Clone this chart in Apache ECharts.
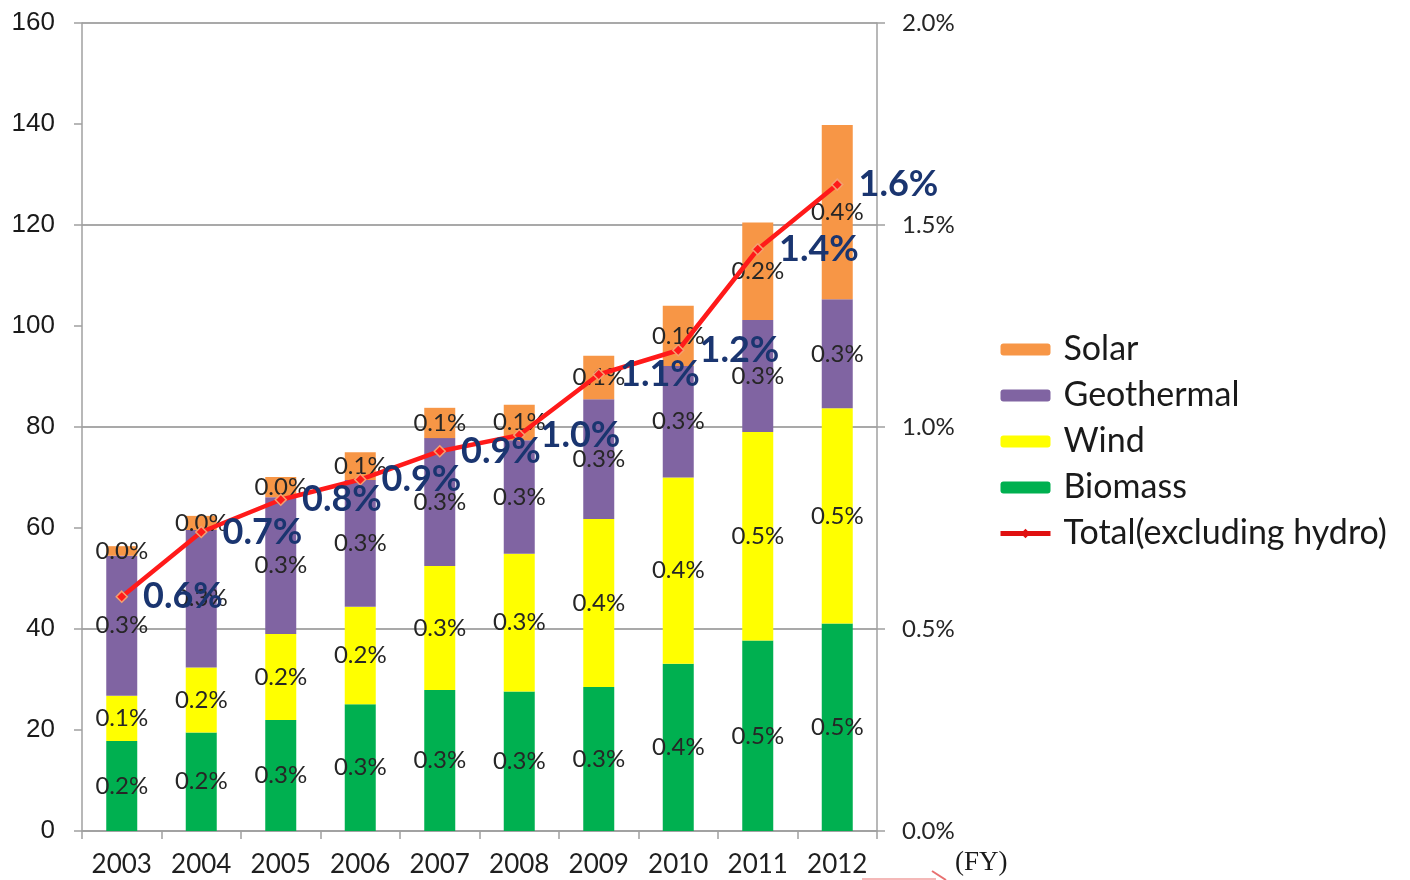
<!DOCTYPE html>
<html>
<head>
<meta charset="utf-8">
<script src="https://cdn.jsdelivr.net/npm/echarts@6/dist/echarts.min.js"></script>
<style>
html,body{margin:0;padding:0;background:#fff;}
#chart{width:1410px;height:880px;}
</style>
</head>
<body>
<div id="chart"></div>
<script>
// ---- data ----
const years = ['2003','2004','2005','2006','2007','2008','2009','2010','2011','2012'];
// generated amount (left axis units), stacked bottom-up
const biomass    = [17.8, 19.5, 22.0, 25.1, 27.9, 27.6, 28.5, 33.1, 37.7, 41.1];
const wind       = [ 9.0, 12.9, 17.0, 19.3, 24.6, 27.3, 33.3, 36.9, 41.3, 42.6];
const geothermal = [27.7, 27.2, 27.1, 25.1, 25.3, 22.5, 23.7, 22.1, 22.2, 21.6];
const solar      = [ 1.9,  2.8,  4.0,  5.5,  6.0,  7.0,  8.6, 11.9, 19.3, 34.5];
// share labels (%) printed in each segment
const biomassShare    = [0.2, 0.2, 0.3, 0.3, 0.3, 0.3, 0.3, 0.4, 0.5, 0.5];
const windShare       = [0.1, 0.2, 0.2, 0.2, 0.3, 0.3, 0.4, 0.4, 0.5, 0.5];
const geothermalShare = [0.3, 0.3, 0.3, 0.3, 0.3, 0.3, 0.3, 0.3, 0.3, 0.3];
const solarShare      = [0.0, 0.0, 0.0, 0.1, 0.1, 0.1, 0.1, 0.1, 0.2, 0.4];
// total share excluding hydro (%), right axis
const totalShare = [0.58, 0.74, 0.82, 0.87, 0.94, 0.98, 1.13, 1.19, 1.44, 1.60];
// tick labels
const leftTicks = [0, 20, 40, 60, 80, 100, 120, 140, 160];
const rightTicks = [0, 0.5, 1.0, 1.5, 2.0];

const C = {
  solar: '#F79646', geo: '#8064A2', wind: '#FFFF00', bio: '#00B050',
  line: '#FF1A1A', blue: '#1A3570', grid: '#8C8C8C', axis: '#A0A0A0'
};
const SANS = 'Lato, "Open Sans", sans-serif';

function segLabel(shares) {
  return {
    show: true, position: 'inside', color: '#262626',
    fontFamily: SANS, fontSize: 24,
    formatter: p => shares[p.dataIndex].toFixed(1) + '%'
  };
}
function barSeries(name, data, color, shares) {
  return {
    name, type: 'bar', stack: 'gen', yAxisIndex: 0, data,
    barWidth: 31, itemStyle: { color }, label: segLabel(shares),
    emphasis: { disabled: true }
  };
}

const chart = echarts.init(document.getElementById('chart'), null, { renderer: 'canvas' });
chart.setOption({
  animation: false,
  backgroundColor: '#ffffff',
  grid: { left: 82, right: 533, top: 23, bottom: 49, containLabel: false },
  legend: {
    data: [
      { name: 'Solar' }, { name: 'Geothermal' }, { name: 'Wind' }, { name: 'Biomass' },
      { name: 'Total(excluding hydro)', lineStyle: { width: 5, color: '#E01010' }, itemStyle: { color: '#E01010', borderWidth: 0 } }
    ],
    orient: 'vertical', left: 993, top: 326,
    itemWidth: 50, itemHeight: 12, itemGap: 9,
    textStyle: { fontFamily: SANS, fontSize: 34, color: '#1a1a1a', lineHeight: 37, padding: [0, 0, 0, 8] },
    selectedMode: false
  },
  xAxis: {
    type: 'category', data: years, boundaryGap: true,
    axisLine: { lineStyle: { color: C.axis, width: 1.5 } },
    axisTick: { show: true, length: 8, lineStyle: { color: C.axis, width: 1.5 } },
    axisLabel: { fontFamily: SANS, fontSize: 26, color: '#1f1f1f', margin: 21 }
  },
  yAxis: [
    {
      type: 'value', position: 'left', min: 0, max: 160, interval: 20,
      axisLine: { show: true, lineStyle: { color: C.axis, width: 1.5 } },
      axisTick: { show: true, length: 8, lineStyle: { color: C.axis, width: 1.5 } },
      splitLine: { show: false },
      axisLabel: {
        fontFamily: '"Liberation Sans", Arial, sans-serif', fontSize: 26, color: '#1a1a1a', margin: 27,
        formatter: v => leftTicks.includes(v) ? String(v) : ''
      }
    },
    {
      type: 'value', position: 'right', min: 0, max: 2, interval: 0.5,
      axisLine: { show: true, lineStyle: { color: C.axis, width: 1.5 } },
      axisTick: { show: true, length: 8, lineStyle: { color: C.axis, width: 1.5 } },
      splitLine: { show: true, lineStyle: { color: C.grid, width: 1.5 } },
      axisLabel: {
        fontFamily: SANS, fontSize: 24, color: '#262626', margin: 25,
        formatter: v => rightTicks.includes(v) ? v.toFixed(1) + '%' : ''
      }
    }
  ],
  series: [
    barSeries('Biomass', biomass, C.bio, biomassShare),
    barSeries('Wind', wind, C.wind, windShare),
    barSeries('Geothermal', geothermal, C.geo, geothermalShare),
    barSeries('Solar', solar, C.solar, solarShare),
    {
      name: 'Total(excluding hydro)', type: 'line', yAxisIndex: 1, data: totalShare,
      lineStyle: { color: C.line, width: 4.5 },
      itemStyle: { color: C.line, borderColor: '#F4A070', borderWidth: 1.5 },
      symbol: 'diamond', symbolSize: 11, z: 5,
      label: {
        show: true, position: 'right', distance: 15,
        fontFamily: SANS, fontWeight: 'bold', fontSize: 36, color: C.blue,
        formatter: p => p.value.toFixed(1) + '%'
      },
      emphasis: { disabled: true }
    }
  ],
  graphic: [
    {
      type: 'text', left: 955, top: 849,
      style: { text: '(FY)', font: '27px "Liberation Serif", "Times New Roman", serif', fill: '#1a1a1a' }
    },
    {
      type: 'polyline', silent: true,
      shape: { points: [[862, 879], [936, 879]] },
      style: { stroke: '#F2A0A0', lineWidth: 1.5, fill: null }
    },
    {
      type: 'polyline', silent: true,
      shape: { points: [[932, 871], [946, 880]] },
      style: { stroke: '#E87070', lineWidth: 2, fill: null }
    }
  ]
});
</script>
</body>
</html>
